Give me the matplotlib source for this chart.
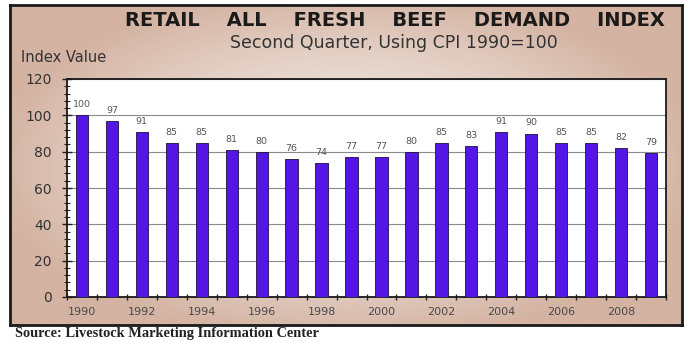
import numpy as np
import matplotlib
matplotlib.use("Agg")
import matplotlib.pyplot as plt

years = list(range(1990, 2010))
values = [100, 97, 91, 85, 85, 81, 80, 76, 74, 77, 77, 80, 85, 83, 91, 90, 85, 85, 82, 79]
year_labels = [str(y) if y % 2 == 0 else "" for y in years]

title = "RETAIL    ALL    FRESH    BEEF    DEMAND    INDEX"
subtitle = "Second Quarter, Using CPI 1990=100"
ylabel = "Index Value"
source = "Source: Livestock Marketing Information Center"

W, H = 685, 343
fig = plt.figure(figsize=(W / 100, H / 100), dpi=100)
fig.patch.set_facecolor("white")

# background panel with gradient
fx0, fy0, fx1, fy1 = 10, 5, 682, 325
bg = fig.add_axes([fx0 / W, 1 - fy1 / H, (fx1 - fx0) / W, (fy1 - fy0) / H], zorder=0)
ny, nx = 200, 400
yy, xx = np.mgrid[-1:1:ny * 1j, -1:1:nx * 1j]
r = np.clip(np.sqrt((xx * 0.95) ** 2 + (yy * 0.9) ** 2), 0, 1.0)
c_center = np.array([243, 236, 232]) / 255
c_edge = np.array([212, 179, 162]) / 255
t = r ** 1.5
img = c_center[None, None, :] * (1 - t[..., None]) + c_edge[None, None, :] * t[..., None]
bg.imshow(img, aspect="auto", extent=[0, 1, 0, 1])
bg.set_xlim(0, 1)
bg.set_ylim(0, 1)
bg.set_xticks([])
bg.set_yticks([])
for s in bg.spines.values():
    s.set_linewidth(2.0)
    s.set_color("#1a1a1a")

# main axes
ax0, ay0, ax1, ay1 = 67, 79, 666, 297
ax = fig.add_axes([ax0 / W, 1 - ay1 / H, (ax1 - ax0) / W, (ay1 - ay0) / H], zorder=2)
ax.set_facecolor("white")
x = np.arange(len(years))
ax.bar(x, values, width=0.41, color="#5416E4", edgecolor="#1a1040", linewidth=0.6, zorder=3)
for xi, v in zip(x, values):
    ax.text(xi, v + 5.8, f"{v}", ha="center", va="center", fontsize=6.8,
            color="#555555", family="DejaVu Sans")

ax.set_xlim(-0.5, len(years) - 0.5)
ax.set_ylim(0, 120)
ax.set_yticks(np.arange(0, 121, 20))
ax.set_yticks(np.arange(0, 121, 4), minor=True)
ax.yaxis.grid(True, which="major", color="#8a8a8a", linewidth=0.8, zorder=0)
ax.set_axisbelow(True)

ax.set_xticks(np.arange(-0.5, len(years), 1))
ax.set_xticklabels([])
ax.set_xticks(x, minor=True)
ax.set_xticklabels(year_labels, minor=True)

ax.tick_params(axis="x", which="major", direction="inout", length=5, width=1, color="#222222")
ax.tick_params(axis="x", which="minor", length=0, pad=7, labelsize=8, labelcolor="#4a4a4a")
ax.tick_params(axis="y", which="major", direction="inout", length=7, width=1, color="#222222",
               labelsize=10, labelcolor="#333333", pad=7.5)
ax.tick_params(axis="y", which="minor", direction="inout", length=4, width=0.8, color="#222222")
for lab in ax.get_xticklabels(minor=True) + ax.get_yticklabels():
    lab.set_family("DejaVu Sans")
for s in ax.spines.values():
    s.set_linewidth(1.3)
    s.set_color("#1a1a1a")

fig.text(395 / W, 1 - 20.5 / H, title, ha="center", va="center", fontsize=14,
         fontweight="bold", color="#1a1a1a", family="DejaVu Sans")
fig.text(394 / W, 1 - 43 / H, subtitle, ha="center", va="center", fontsize=12.5,
         color="#333333", family="DejaVu Sans")
fig.text(21 / W, 1 - 57 / H, ylabel, ha="left", va="center", fontsize=10.5,
         color="#333333", family="DejaVu Sans")
t_src = fig.text(15 / W, 1 - 334 / H, source, ha="left", va="center", fontsize=7.5,
                 fontweight="bold", color="#222222", family="Liberation Serif")

renderer = fig.canvas.get_renderer()
w = t_src.get_window_extent(renderer).width
t_src.set_fontsize(t_src.get_fontsize() * 303 / w)

fig.savefig("out.png", dpi=100)
